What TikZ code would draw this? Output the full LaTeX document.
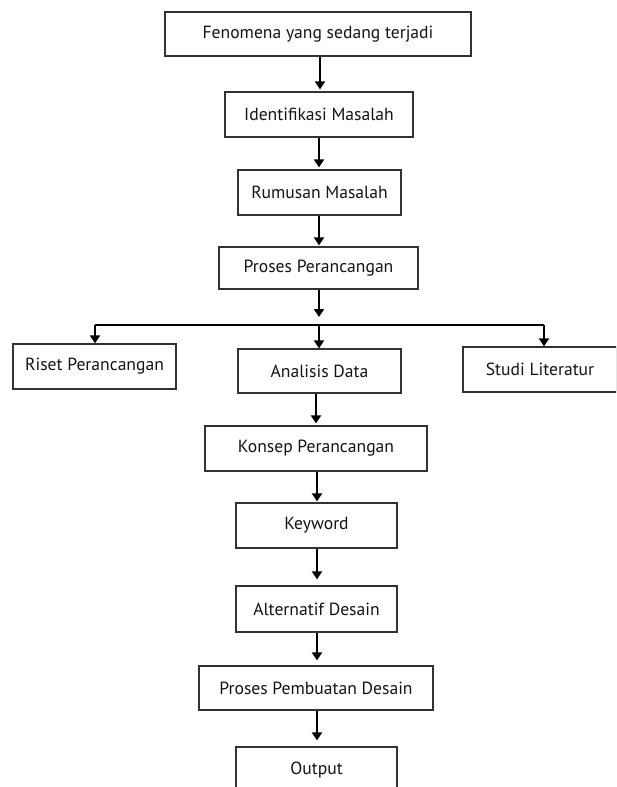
\documentclass[tikz,border=0pt]{standalone}
\usepackage{fontspec}
\setmainfont{PT Sans}
\usetikzlibrary{arrows.meta}
\begin{document}
\begin{tikzpicture}[x=1pt,y=-1pt,
  box/.style={draw=black!80,line width=1.3pt,rectangle,inner sep=0pt,
    text=black!92,font=\fontsize{17.6}{19}\selectfont},
  arr/.style={line width=2.2pt,-{Triangle[length=8pt,width=10pt]}},
  ln/.style={line width=2.2pt}]
\useasboundingbox (0,0) rectangle (616,787);
\clip (0,0) rectangle (616,787);
\node[box,minimum width=306pt,minimum height=44pt] (f1) at (318,34) {Fenomena yang sedang terjadi};
\node[box,minimum width=188pt,minimum height=45pt] (f2) at (319,114.5) {Identifikasi Masalah};
\node[box,minimum width=163pt,minimum height=45pt] (f3) at (319.5,192.5) {Rumusan Masalah};
\node[box,minimum width=199pt,minimum height=42pt] (f4) at (318.5,268) {Proses Perancangan};
\node[box,minimum width=163pt,minimum height=45pt] (riset) at (94.5,366.5) {Riset Perancangan};
\node[box,minimum width=163pt,minimum height=44pt] (anal) at (319.5,371) {Analisis Data};
\node[box,minimum width=154pt,minimum height=45pt] (studi) at (540,369.5) {Studi Literatur};
\node[box,minimum width=222pt,minimum height=45pt] (konsep) at (316,448.5) {Konsep Perancangan};
\node[box,minimum width=161pt,minimum height=45pt] (key) at (316.5,525.5) {Keyword};
\node[box,minimum width=161pt,minimum height=46pt] (alt) at (316.5,609) {Alternatif Desain};
\node[box,minimum width=234pt,minimum height=44pt] (pemb) at (316,688) {Proses Pembuatan Desain};
\node[box,minimum width=161pt,minimum height=45pt] (out) at (316.5,769.5) {Output};
\coordinate (tip) at (319,317);
\coordinate (hl) at (95,325);
\coordinate (hr) at (544,325);
\coordinate (hm) at (319,325);
\draw[arr,shorten >=2pt] (f1.south -| 320,0) -- (f2.north -| 320,0);
\draw[arr,shorten >=2pt] (f2.south -| 319,0) -- (f3.north -| 319,0);
\draw[arr,shorten >=1pt] (f3.south -| 319,0) -- (f4.north -| 319,0);
\draw[arr] (f4.south -| tip) -- (tip);
\draw[ln] (hl) -- (hr);
\draw[arr] (hl) -- (riset.north -| hl);
\draw[arr] (hm) -- (anal.north -| hm);
\draw[arr] (hr) -- (studi.north -| hr);
\draw[arr,shorten >=2pt] (anal.south -| 316,0) -- (konsep.north -| 316,0);
\draw[arr,shorten >=1pt] (konsep.south -| 317,0) -- (key.north -| 317,0);
\draw[arr,shorten >=6pt] (key.south -| 317,0) -- (alt.north -| 317,0);
\draw[arr,shorten >=5pt] (alt.south -| 317,0) -- (pemb.north -| 317,0);
\draw[arr,shorten >=6pt] (pemb.south -| 317,0) -- (out.north -| 317,0);
\end{tikzpicture}
\end{document}
